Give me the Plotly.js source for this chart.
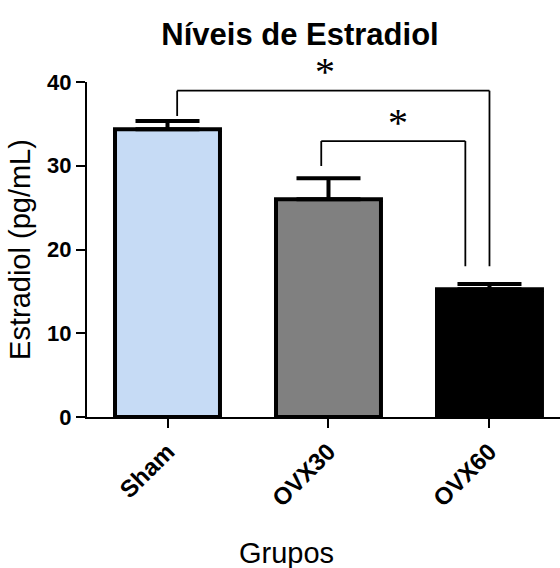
<!DOCTYPE html>
<html>
<head>
<meta charset="utf-8">
<script src="https://cdn.plot.ly/plotly-3.0.1.min.js"></script>
<style>html,body{margin:0;padding:0;background:#fff;}</style>
</head>
<body>
<div id="chart" style="width:560px;height:568px;"></div>
<script>
// Data
const groups = ["Sham", "OVX30", "OVX60"];
const means = [34.35, 26.0, 15.25];
const sem = [1.0, 2.5, 0.63];
const barColors = ["#C6DBF5", "#808080", "#000000"];
// Significance brackets
const bracketLeft = [0.06, 0.955];
const bracketRight = [2.0, 1.85];
const bracketTop = [38.96, 32.95];
const bracketLeftBottom = [35.94, 29.97];
const bracketRightBottom = [18.0, 18.0];
const bracketLabel = ["*", "*"];
const bracketLabelX = [0.98, 1.43];

const idx = groups.map((g, i) => i);
const FONT = "Liberation Sans, Arial, sans-serif";

const trace = {
  type: "bar",
  x: idx,
  y: means,
  width: 0.652,
  marker: {color: barColors, line: {color: "#000", width: 4}},
  error_y: {type: "data", symmetric: false, array: sem, arrayminus: groups.map(() => 0),
            color: "#000", thickness: 4, width: 32},
  hoverinfo: "none"
};

const shapes = [];
const annotations = [];
for (let i = 0; i < bracketLeft.length; i++) {
  const ln = {type: "line", xref: "x", yref: "y", line: {color: "#000", width: 1.8}};
  shapes.push(Object.assign({}, ln, {x0: bracketLeft[i], x1: bracketLeft[i], y0: bracketLeftBottom[i], y1: bracketTop[i]}));
  shapes.push(Object.assign({}, ln, {x0: bracketLeft[i], x1: bracketRight[i], y0: bracketTop[i], y1: bracketTop[i]}));
  shapes.push(Object.assign({}, ln, {x0: bracketRight[i], x1: bracketRight[i], y0: bracketRightBottom[i], y1: bracketTop[i]}));
  annotations.push({
    xref: "x", yref: "y", x: bracketLabelX[i], y: bracketTop[i],
    text: bracketLabel[i], showarrow: false, xanchor: "center", yanchor: "middle", yshift: 19,
    font: {family: "Liberation Serif, Times New Roman, serif", size: 40, color: "#000"}
  });
}
annotations.push({
  xref: "paper", yref: "paper", x: (286 - 87) / 473, y: (417 - 553) / 335,
  text: "Grupos", showarrow: false, xanchor: "center", yanchor: "middle",
  font: {family: FONT, size: 29, color: "#000"}
});

const layout = {
  width: 560, height: 568,
  margin: {l: 87, r: 0, t: 82, b: 151, pad: 0},
  paper_bgcolor: "#fff", plot_bgcolor: "#fff",
  showlegend: false,
  title: {text: "Níveis de Estradiol", font: {family: FONT, size: 31, weight: "bold", color: "#000"},
          xref: "container", x: 300 / 560, xanchor: "center", yref: "container", y: 1 - 34 / 568, yanchor: "middle"},
  xaxis: {
    range: [-0.5, 2.438], tickvals: idx, ticktext: groups, tickangle: -45,
    ticks: "outside", ticklen: 9, tickwidth: 2, tickcolor: "#000",
    showline: true, linewidth: 2, linecolor: "#000", showgrid: false, zeroline: false,
    tickfont: {family: FONT, size: 24, weight: "bold", color: "#000"}
  },
  yaxis: {
    range: [0, 40], dtick: 10, tick0: 0,
    ticks: "outside", ticklen: 9, tickwidth: 2, tickcolor: "#000",
    showline: true, linewidth: 2, linecolor: "#000", showgrid: false, zeroline: false,
    tickfont: {family: FONT, size: 22, weight: "bold", color: "#000"},
    title: {text: "Estradiol (pg/mL)", font: {family: FONT, size: 29, color: "#000"}, standoff: 8}
  },
  shapes: shapes,
  annotations: annotations
};

Plotly.newPlot("chart", [trace], layout, {displayModeBar: false, staticPlot: true});
</script>
</body>
</html>
